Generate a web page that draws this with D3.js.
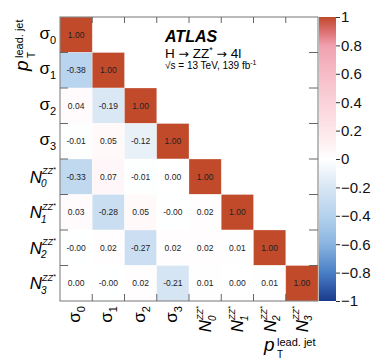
<!DOCTYPE html>
<html>
<head>
<meta charset="utf-8">
<script src="https://cdn.jsdelivr.net/npm/d3@7"></script>
<style>
  body { margin: 0; background: #fff; }
  text { font-family: "Liberation Sans", Arial, sans-serif; }
</style>
</head>
<body>
<div id="chart"></div>
<script>
// parameters, in matrix order (rows top->bottom, columns left->right)
const params = ["s0", "s1", "s2", "s3", "n0", "n1", "n2", "n3"];

// lower triangle of the correlation matrix, row by row
const corr = [
  [1.00],
  [-0.38, 1.00],
  [0.04, -0.19, 1.00],
  [-0.01, 0.05, -0.12, 1.00],
  [-0.33, 0.07, -0.01, 0.00, 1.00],
  [0.03, -0.28, 0.05, -0.003, 0.02, 1.00],
  [-0.003, 0.02, -0.27, 0.02, 0.02, 0.01, 1.00],
  [0.00, -0.003, 0.02, -0.21, 0.01, 0.00, 0.01, 1.00]
];

const cbTicks = [-1, -0.8, -0.6, -0.4, -0.2, 0, 0.2, 0.4, 0.6, 0.8, 1];

const width = 374, height = 359;
const pLeft = 60, pRight = 318, pTop = 17, pBottom = 301;

const svg = d3.select("#chart").append("svg")
    .attr("width", width)
    .attr("height", height);

const x = d3.scaleBand().domain(params).range([pLeft, pRight]);
const y = d3.scaleBand().domain(params).range([pTop, pBottom]);

// palette: blue - white - pink - dark red
const color = d3.scaleLinear()
    .domain([-1, -0.8, -0.6, -0.4, -0.2, 0, 0.2, 0.4, 0.6, 0.8, 0.9, 1])
    .range(["#1a3a8c", "#4a7fc6", "#8ab4e0", "#b5d2ed", "#d8e6f4", "#ffffff",
            "#fde6ea", "#fad2d9", "#f6bcc6", "#f0a0ae", "#dc6e70", "#c04a2a"])
    .clamp(true);

const cells = [];
corr.forEach((row, i) => row.forEach((v, j) => cells.push({r: params[i], c: params[j], v})));

svg.selectAll(".cell")
  .data(cells)
  .enter().append("rect")
    .attr("class", "cell")
    .attr("x", d => x(d.c))
    .attr("y", d => y(d.r))
    .attr("width", x.bandwidth())
    .attr("height", y.bandwidth())
    .attr("fill", d => color(d.v))
    .attr("stroke", "rgba(255,255,255,0.45)")
    .attr("stroke-width", 0.6);

const fmt = v => (v < 0 ? "-" : "") + Math.abs(v).toFixed(2);

svg.selectAll(".val")
  .data(cells)
  .enter().append("text")
    .attr("class", "val")
    .attr("x", d => x(d.c) + x.bandwidth() / 2)
    .attr("y", d => y(d.r) + y.bandwidth() / 2 + 3)
    .attr("text-anchor", "middle")
    .attr("font-size", "8.5px")
    .attr("fill", "#222")
    .text(d => fmt(d.v));

// frame
svg.append("rect")
    .attr("x", pLeft).attr("y", pTop)
    .attr("width", pRight - pLeft).attr("height", pBottom - pTop)
    .attr("fill", "none")
    .attr("stroke", "#777")
    .attr("stroke-width", 1);

const frameTicks = svg.append("g").attr("stroke", "#666").attr("stroke-width", 1);
params.slice(1).forEach(p => {
  frameTicks.append("line").attr("x1", pLeft).attr("x2", pLeft + 8).attr("y1", y(p)).attr("y2", y(p));
  frameTicks.append("line").attr("x1", pRight - 9).attr("x2", pRight).attr("y1", y(p)).attr("y2", y(p));
  frameTicks.append("line").attr("x1", x(p)).attr("x2", x(p)).attr("y1", pTop).attr("y2", pTop + 6);
  frameTicks.append("line").attr("x1", x(p)).attr("x2", x(p)).attr("y1", pBottom - 7).attr("y2", pBottom);
});

// parameter labels, drawn with right edge at local x = 0
function paramLabel(g, p) {
  const idx = p[1];
  if (p[0] === "s") {
    const t = g.append("text").attr("text-anchor", "end").attr("y", 4);
    t.append("tspan").attr("font-size", "17px").text("σ");
    t.append("tspan").attr("font-size", "11px").attr("dy", 5).text(idx);
  } else {
    g.append("text").attr("x", -14).attr("y", 6).attr("text-anchor", "end")
      .attr("font-size", "17px").attr("font-style", "italic").text("N");
    const sup = g.append("text").attr("x", -14).attr("y", -2.5)
      .attr("font-size", "9px").attr("font-style", "italic");
    sup.append("tspan").text("ZZ");
    sup.append("tspan").attr("font-size", "7px").attr("dy", -2).text("*");
    g.append("text").attr("x", -15).attr("y", 10.5)
      .attr("font-size", "10px").attr("font-style", "italic").text(idx);
  }
}

params.forEach(p => {
  paramLabel(svg.append("g").attr("transform", `translate(56,${y(p) + y.bandwidth() / 2})`), p);
  paramLabel(svg.append("g").attr("transform", `translate(${x(p) + x.bandwidth() / 2},306) rotate(-90)`), p);
});

// axis titles: p_T^{lead. jet}, right edge at local x = 0, p baseline at local y = 0
function ptTitle(g) {
  g.append("text").attr("x", -54).attr("y", 0)
    .attr("font-family", "Liberation Serif, serif").attr("font-style", "italic")
    .attr("font-size", "19px").text("p");
  g.append("text").attr("x", -41).attr("y", -5).attr("font-size", "11px").text("lead. jet");
  g.append("text").attr("x", -41).attr("y", 7).attr("font-size", "10px").text("T");
}
ptTitle(svg.append("g").attr("transform", `translate(${pRight},351)`));
ptTitle(svg.append("g").attr("transform", `translate(28,${pTop}) rotate(-90)`));

// colour bar
const cbY = d3.scaleLinear().domain([-1, 1]).range([pBottom, pTop]);
const grad = svg.append("defs").append("linearGradient")
    .attr("id", "cbgrad")
    .attr("x1", 0).attr("y1", 1).attr("x2", 0).attr("y2", 0);
d3.range(0, 1.0001, 0.02).forEach(t => {
  grad.append("stop").attr("offset", t).attr("stop-color", color(-1 + 2 * t));
});
svg.append("rect")
    .attr("x", 319).attr("y", pTop)
    .attr("width", 17).attr("height", pBottom - pTop)
    .attr("fill", "url(#cbgrad)");

const cbAxis = svg.append("g")
    .attr("transform", "translate(336,0)")
    .call(d3.axisRight(cbY).tickValues(cbTicks).tickSize(4).tickPadding(1)
      .tickFormat(d3.format("~g")));
cbAxis.select(".domain").remove();
cbAxis.selectAll(".tick line").attr("stroke", "#333");
cbAxis.selectAll(".tick text")
    .attr("font-size", "15px")
    .attr("font-family", "Liberation Sans, Arial, sans-serif")
    .attr("fill", "#111");

// ATLAS label
svg.append("text").attr("x", 165).attr("y", 42)
    .attr("font-size", "16px").attr("font-weight", "bold").attr("font-style", "italic")
    .text("ATLAS");
const decay = svg.append("text").attr("x", 165).attr("y", 57.5).attr("font-size", "13.5px");
decay.append("tspan").text("H ");
decay.append("tspan").attr("font-family", "DejaVu Sans, sans-serif").attr("font-size", "12.5px").text("→");
decay.append("tspan").text(" ZZ");
decay.append("tspan").attr("font-size", "9px").attr("dy", -5).text("*");
decay.append("tspan").attr("dy", 5).text(" ");
decay.append("tspan").attr("font-family", "DejaVu Sans, sans-serif").attr("font-size", "12.5px").text("→");
decay.append("tspan").text(" 4l");
const lumi = svg.append("text").attr("x", 165).attr("y", 68.5).attr("font-size", "10px");
lumi.append("tspan").text("√s = 13 TeV, 139 fb");
lumi.append("tspan").attr("font-size", "7px").attr("dy", -4).text("-1");
</script>
</body>
</html>
